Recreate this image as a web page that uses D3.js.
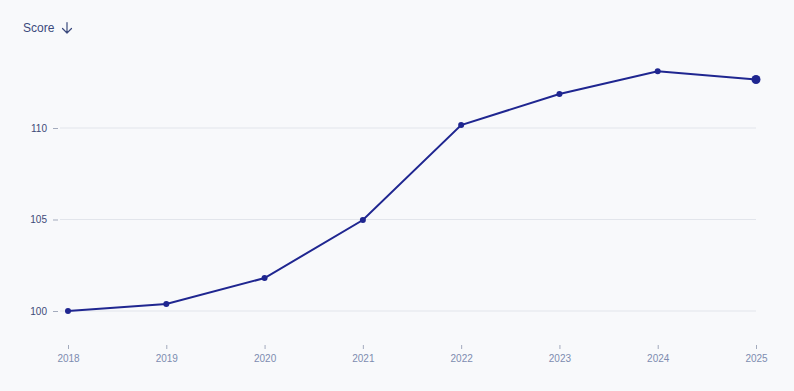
<!DOCTYPE html>
<html><head><meta charset="utf-8">
<script src="https://cdn.jsdelivr.net/npm/d3@7"></script>
<style>
html,body{margin:0;padding:0;background:#f8f9fb;}
svg{display:block;font-family:"Helvetica Neue",Helvetica,Arial,"Liberation Sans",sans-serif;}
</style></head>
<body>
<svg id="c" width="794" height="391"></svg>
<script>
const years = [2018, 2019, 2020, 2021, 2022, 2023, 2024, 2025];
const scores = [100, 100.38, 101.8, 104.97, 110.16, 111.86, 113.1, 112.65];
const yTicks = [100, 105, 110];
const yLabel = "Score";

const svg = d3.select("#c");
const W = 794, H = 391;
svg.append("rect").attr("width", W).attr("height", H).attr("fill", "#f8f9fb");

const x = d3.scalePoint().domain(years).range([68, 756]);
const y = d3.scaleLinear().domain([100, 110]).range([311, 128]);

// gridlines
svg.append("g").selectAll("line").data(yTicks).join("line")
  .attr("x1", 60).attr("x2", 756)
  .attr("y1", d => y(d)).attr("y2", d => y(d))
  .attr("stroke", "#e2e5eb").attr("stroke-width", 1);

// y axis
const yAxis = svg.append("g").attr("transform", "translate(58,0)")
  .call(d3.axisLeft(y).tickValues(yTicks).tickSize(5).tickPadding(6));
yAxis.select(".domain").remove();
yAxis.selectAll(".tick line").attr("stroke", "#a3abbd");
yAxis.selectAll(".tick text").attr("fill", "#3d4a78").attr("font-size", 10);

// x axis
const xAxis = svg.append("g").attr("transform", "translate(0,345)")
  .call(d3.axisBottom(x).tickSize(4).tickPadding(6));
xAxis.select(".domain").remove();
xAxis.selectAll(".tick line").attr("stroke", "#a3abbd");
xAxis.selectAll(".tick text").attr("fill", "#7d8cb0").attr("font-size", 10);

// title
svg.append("text").attr("x", 23).attr("y", 32).attr("fill", "#3b4a7d")
  .attr("font-size", 12).text(yLabel);
svg.append("path")
  .attr("d", "M67,22.5V33M62.5,28.5L67,33L71.5,28.5")
  .attr("fill", "none").attr("stroke", "#3b4a7d").attr("stroke-width", 1.2)
  .attr("stroke-linecap", "round").attr("stroke-linejoin", "round");

const data = years.map((yr, i) => ({yr, v: scores[i]}));
svg.append("path").datum(data)
  .attr("fill", "none").attr("stroke", "#1f2690").attr("stroke-width", 2)
  .attr("d", d3.line().x(d => x(d.yr)).y(d => y(d.v)));

svg.append("g").selectAll("circle").data(data).join("circle")
  .attr("cx", d => x(d.yr)).attr("cy", d => y(d.v))
  .attr("r", (d, i) => i === data.length - 1 ? 4.5 : 3)
  .attr("fill", "#1f2690");
</script>
</body></html>
